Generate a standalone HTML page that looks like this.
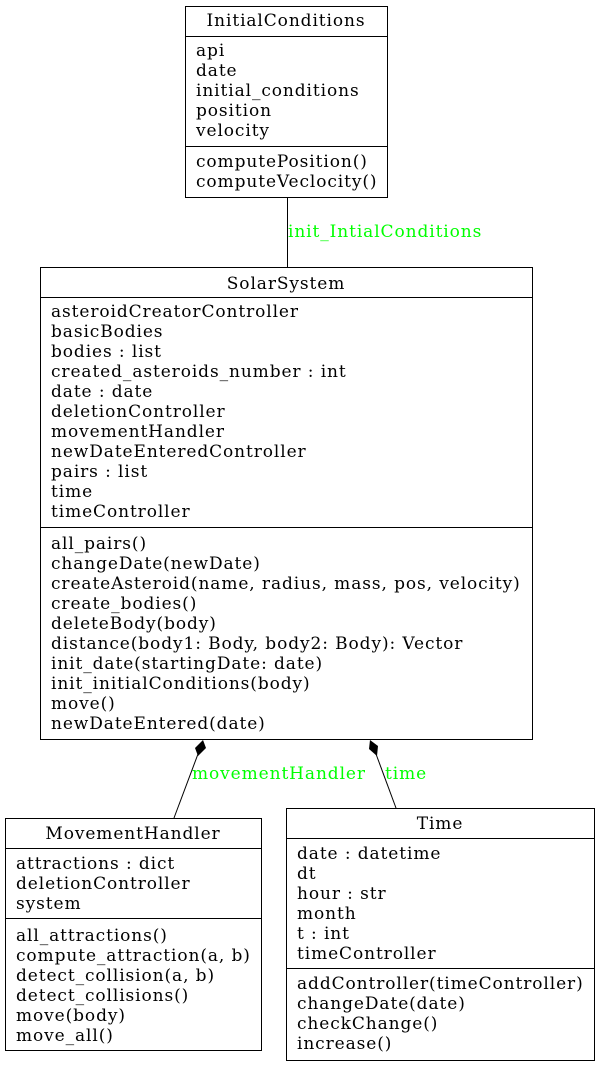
<!DOCTYPE html>
<html><head><meta charset="utf-8"><style>
body{margin:0;background:#fff}
svg text{font-family:"DejaVu Serif","Liberation Serif",serif;font-size:17px;letter-spacing:0.9px;fill:#000}
.g{fill:#00ff00}
</style></head><body>
<svg width="599" height="1067" viewBox="0 0 599 1067" xmlns="http://www.w3.org/2000/svg">
<g fill="none" stroke="#000" stroke-width="1">
<rect x="185.5" y="6.5" width="202" height="191"/>
<line x1="185" y1="36.5" x2="388" y2="36.5"/>
<line x1="185" y1="146.5" x2="388" y2="146.5"/>
<rect x="40.5" y="267.5" width="492" height="472"/>
<line x1="40" y1="297.5" x2="533" y2="297.5"/>
<line x1="40" y1="527.5" x2="533" y2="527.5"/>
<rect x="5.5" y="818.5" width="256" height="232"/>
<line x1="5" y1="848.5" x2="262" y2="848.5"/>
<line x1="5" y1="918.5" x2="262" y2="918.5"/>
<rect x="286.5" y="808.5" width="308" height="252"/>
<line x1="286" y1="838.5" x2="595" y2="838.5"/>
<line x1="286" y1="968.5" x2="595" y2="968.5"/>
<line x1="287.5" y1="197" x2="287.5" y2="267"/>
<line x1="198" y1="754" x2="174" y2="818"/>
<line x1="376" y1="754" x2="396" y2="808"/>
</g>
<polygon points="203,740 206,748 198,756 195,748" fill="#000"/>
<polygon points="370,740 378,746 377,756 369,749" fill="#000"/>
<text x="286" y="26" text-anchor="middle">InitialConditions</text>
<text x="196" y="56">api</text>
<text x="196" y="76">date</text>
<text x="196" y="96">initial_conditions</text>
<text x="196" y="116">position</text>
<text x="196" y="136">velocity</text>
<text x="196" y="167">computePosition()</text>
<text x="196" y="187">computeVeclocity()</text>
<text class="g" x="288" y="237">init_IntialConditions</text>
<text x="286" y="289" text-anchor="middle">SolarSystem</text>
<text x="51" y="317">asteroidCreatorController</text>
<text x="51" y="337">basicBodies</text>
<text x="51" y="357">bodies : list</text>
<text x="51" y="377">created_asteroids_number : int</text>
<text x="51" y="397">date : date</text>
<text x="51" y="417">deletionController</text>
<text x="51" y="437">movementHandler</text>
<text x="51" y="457">newDateEnteredController</text>
<text x="51" y="477">pairs : list</text>
<text x="51" y="497">time</text>
<text x="51" y="517">timeController</text>
<text x="51" y="549">all_pairs()</text>
<text x="51" y="569">changeDate(newDate)</text>
<text x="51" y="589">createAsteroid(name, radius, mass, pos, velocity)</text>
<text x="51" y="609">create_bodies()</text>
<text x="51" y="629">deleteBody(body)</text>
<text x="51" y="649">distance(body1: Body, body2: Body): Vector</text>
<text x="51" y="669">init_date(startingDate: date)</text>
<text x="51" y="689">init_initialConditions(body)</text>
<text x="51" y="709">move()</text>
<text x="51" y="729">newDateEntered(date)</text>
<text class="g" x="192" y="779">movementHandler</text>
<text class="g" x="385" y="779">time</text>
<text x="133" y="839" text-anchor="middle">MovementHandler</text>
<text x="16" y="869">attractions : dict</text>
<text x="16" y="889">deletionController</text>
<text x="16" y="909">system</text>
<text x="16" y="941">all_attractions()</text>
<text x="16" y="961">compute_attraction(a, b)</text>
<text x="16" y="981">detect_collision(a, b)</text>
<text x="16" y="1001">detect_collisions()</text>
<text x="16" y="1021">move(body)</text>
<text x="16" y="1041">move_all()</text>
<text x="440" y="829" text-anchor="middle">Time</text>
<text x="297" y="859">date : datetime</text>
<text x="297" y="879">dt</text>
<text x="297" y="899">hour : str</text>
<text x="297" y="919">month</text>
<text x="297" y="939">t : int</text>
<text x="297" y="959">timeController</text>
<text x="297" y="989">addController(timeController)</text>
<text x="297" y="1009">changeDate(date)</text>
<text x="297" y="1029">checkChange()</text>
<text x="297" y="1049">increase()</text>
</svg>
</body></html>
